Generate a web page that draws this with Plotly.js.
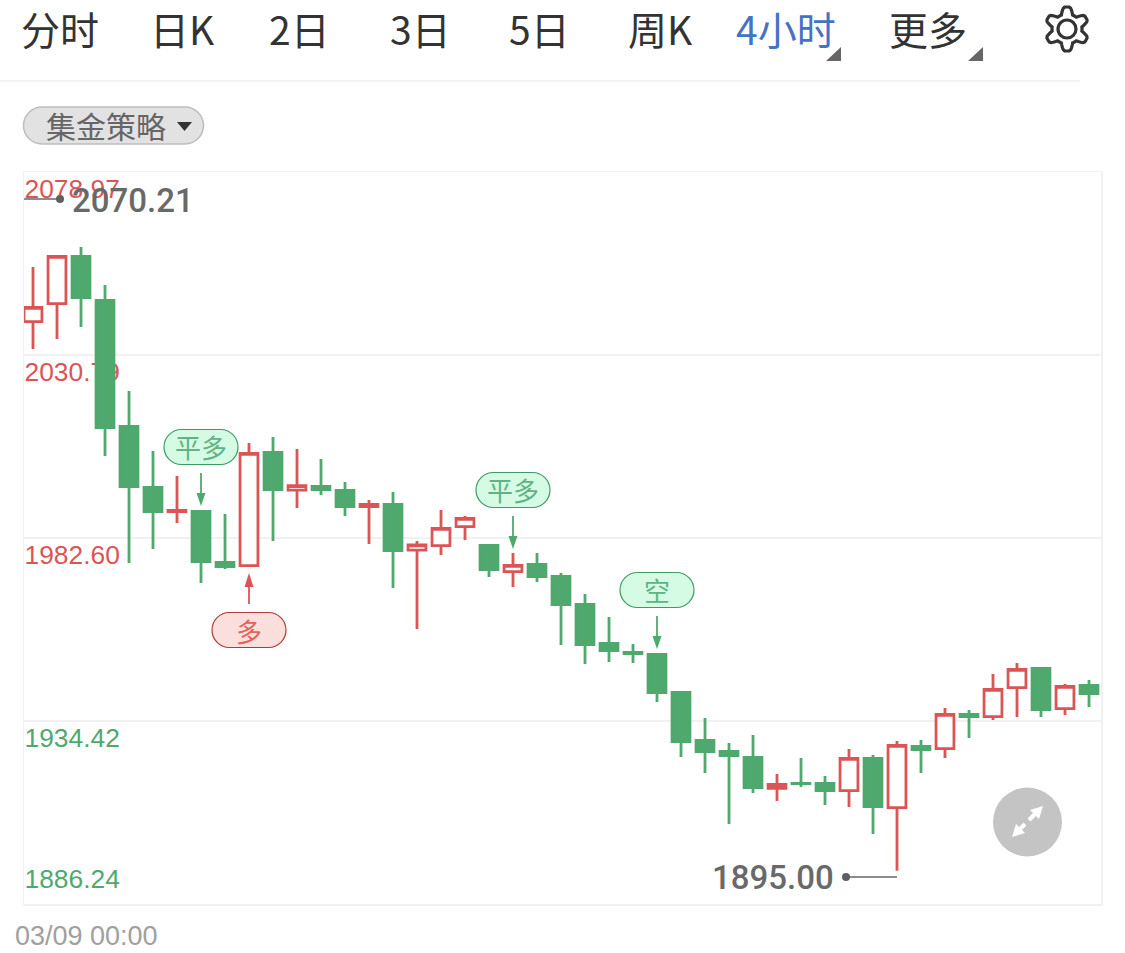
<!DOCTYPE html>
<html>
<head>
<meta charset="utf-8">
<script src="https://cdn.plot.ly/plotly-3.0.1.min.js"></script>
<style>html,body{margin:0;padding:0;background:#fff;overflow:hidden}#chart{width:1125px;height:953px}</style>
</head>
<body>
<div id="chart"></div>
<script>
const indexes = Array.from({length:45},(_,i)=>i);
const opens = [2039.58,2044.32,2056.74,2045.16,2011.99,1995.93,1989.56,1989.61,1976.18,1975.34,2005.14,1995.20,1996.19,1995.14,1990.87,1991.45,1979.40,1980.61,1985.61,1980.66,1973.76,1975.65,1972.49,1965.12,1954.85,1952.48,1951.96,1941.95,1929.32,1926.42,1924.84,1916.70,1918.00,1918.00,1916.10,1924.58,1911.62,1927.74,1927.16,1936.16,1935.58,1943.22,1948.27,1937.69,1943.80];
const highs = [2053.95,2057.11,2059.22,2049.22,2021.31,2005.51,1998.93,1989.98,1988.92,2007.62,2009.20,2006.04,2003.40,1997.35,1992.61,1994.72,1981.82,1989.98,1988.40,1981.03,1978.66,1978.66,1973.39,1967.86,1961.81,1954.70,1952.33,1942.32,1935.21,1928.63,1930.74,1920.47,1924.68,1919.94,1927.05,1925.47,1929.16,1929.42,1937.85,1937.32,1946.80,1949.69,1948.64,1944.17,1945.22];
const lows = [2032.37,2035.00,2038.16,2004.19,1976.02,1979.71,1986.55,1970.76,1974.44,1974.97,1981.82,1990.50,1993.93,1988.40,1981.03,1969.44,1958.65,1978.13,1982.08,1972.34,1969.70,1971.02,1954.43,1949.43,1949.96,1949.69,1939.43,1924.95,1920.73,1907.31,1915.47,1913.36,1917.05,1912.31,1911.78,1904.67,1895.00,1920.73,1924.68,1929.95,1934.69,1935.48,1935.48,1936.00,1938.11];
const closes = [2043.32,2056.74,2045.90,2011.67,1996.14,1989.56,1989.87,1976.39,1975.08,2004.88,1995.35,1996.40,1995.35,1990.87,1991.45,1979.29,1980.80,1985.13,1987.76,1974.29,1975.39,1972.44,1965.07,1954.54,1952.96,1952.17,1941.90,1929.00,1926.37,1925.32,1916.89,1917.70,1917.95,1916.10,1924.58,1911.89,1928.00,1926.90,1936.16,1935.58,1942.74,1948.01,1937.43,1943.53,1941.64];
const tickVals = [2078.97,2030.79,1982.60,1934.42,1886.24];
const tickAnchors = ['top','top','top','top','bottom'];
const tabs = ['分时','日K','2日','3日','5日','周K','4小时','更多'];
const tabCenters = [60,182,299,420,539,660,786,928];
const signalLabels = ['平多','多','平多','空'];
const signalIndex = [7,9,20,26];
const signalDir = [1,-1,1,1];
const maxLabel = '2070.21', minLabel = '1895.00', dateLabel = '03/09 00:00', strategyLabel = '集金策略';

const RED='#dc5556', GREEN='#4fa96e', SANS='"Liberation Sans", Arial, sans-serif', CJK='"Noto Sans CJK SC", sans-serif';
const X=p=>(p-24)/1077, Y=p=>(904-p)/732;
const k=0.5523;
function rrect(x0,y0,x1,y1,r,fx,fy){
  const c=r*(1-k);
  return `M${fx(x0+r)},${fy(y0)} L${fx(x1-r)},${fy(y0)} C${fx(x1-c)},${fy(y0)} ${fx(x1)},${fy(y0+c)} ${fx(x1)},${fy(y0+r)} `+
         `L${fx(x1)},${fy(y1-r)} C${fx(x1)},${fy(y1-c)} ${fx(x1-c)},${fy(y1)} ${fx(x1-r)},${fy(y1)} `+
         `L${fx(x0+r)},${fy(y1)} C${fx(x0+c)},${fy(y1)} ${fx(x0)},${fy(y1-c)} ${fx(x0)},${fy(y1-r)} `+
         `L${fx(x0)},${fy(y0+r)} C${fx(x0)},${fy(y0+c)} ${fx(x0+c)},${fy(y0)} ${fx(x0+r)},${fy(y0)} Z`;
}
const paperShape=(path,fill,line,width)=>({type:'path',xref:'paper',yref:'paper',path,fillcolor:fill,line:{color:line||'rgba(0,0,0,0)',width:width||0},layer:'above'});
const paperPoly=(pts,fill)=>paperShape('M'+pts.map(p=>X(p[0])+','+Y(p[1])).join(' L')+' Z',fill);
const paperLine=(x0,y0,x1,y1,color,w)=>({type:'line',xref:'paper',yref:'paper',x0:X(x0),y0:Y(y0),x1:X(x1),y1:Y(y1),line:{color,width:w},layer:'above'});
const paperCircle=(cx,cy,r,fill)=>({type:'circle',xref:'paper',yref:'paper',x0:X(cx-r),x1:X(cx+r),y0:Y(cy+r),y1:Y(cy-r),fillcolor:fill,line:{width:0,color:'rgba(0,0,0,0)'},layer:'above'});
const note=(text,x,y,size,color,family,extra)=>Object.assign({text,xref:'paper',yref:'paper',x:X(x),y:Y(y),xanchor:'center',yanchor:'middle',showarrow:false,font:{size,color,family}},extra||{});

const shapes=[], annotations=[];

// header
tabs.forEach((t,i)=>annotations.push(note(t,tabCenters[i],27.5,39,t==='4小时'?'#4472c4':'#333333',CJK)));
shapes.push(paperLine(0,81,1080,81,'#f3f3f3',2));
shapes.push(paperPoly([[841,47],[841,61],[826,61]],'#666666'));
shapes.push(paperPoly([[983,47],[983,61],[968,61]],'#666666'));
// gear
(function(){
  const cx=1067,cy=29,pts=[];
  for(let d=0;d<360;d+=4){
    const th=d*Math.PI/180, r=18.5+3.5*Math.max(-1,Math.min(1,1.5*Math.cos(6*(th-Math.PI/2))));
    pts.push([cx+r*Math.cos(th),cy-r*Math.sin(th)]);
  }
  shapes.push(paperShape('M'+pts.map(p=>X(p[0])+','+Y(p[1])).join(' L')+' Z','rgba(0,0,0,0)','#333333',3.2));
  shapes.push({type:'circle',xref:'paper',yref:'paper',x0:X(cx-9),x1:X(cx+9),y0:Y(cy+9),y1:Y(cy-9),line:{color:'#333333',width:3.2},fillcolor:'rgba(0,0,0,0)',layer:'above'});
})();
// strategy pill
shapes.push(paperShape(rrect(23.5,107,203.5,144,18.5,X,Y),'#e2e2e2','#bdbdbd',1.5));
annotations.push(note(strategyLabel,105.5,125,30,'#666666',CJK));
shapes.push(paperPoly([[177,122],[192,122],[184.5,131]],'#333333'));

// axis value labels drawn beneath the candles
tickVals.forEach((v,i)=>{
  const pad=i===4?12:0;
  shapes.push({type:'line',xref:'paper',yref:'y',x0:0.5/1077,x1:1,y0:v,y1:v,layer:'below',line:{color:'rgba(0,0,0,0)',width:0},
    label:{text:v.toFixed(2),textposition:'start',xanchor:'left',yanchor:tickAnchors[i],padding:pad,font:{size:26.4,family:SANS,color:v>2000||v===1982.60?RED:GREEN}}});
});

// signals: pill + arrow anchored to the candle
signalIndex.forEach((idx,i)=>{
  const up=signalDir[i]>0, price=up?highs[idx]:lows[idx], col=signalLabels[i]==='多'?'#b03a38':'#3f9a63',
    fill=signalLabels[i]==='多'?'#fbdfdd':'#d5fbe4', ac=signalLabels[i]==='多'?RED:GREEN, tc=signalLabels[i]==='多'?'#e2625d':'#5fb385',
    s=up?1:-1, id=v=>v;
  const anchored={xref:'x',yref:'y',xsizemode:'pixel',ysizemode:'pixel',xanchor:idx,yanchor:price,type:'path',layer:'above'};
  const yA=s*45.5, yB=s*80.5;
  shapes.push(Object.assign({},anchored,{path:rrect(-37,Math.min(yA,yB),37,Math.max(yA,yB),17.5,id,id),fillcolor:fill,line:{color:col,width:1.2}}));
  shapes.push(Object.assign({},anchored,{path:`M0,${s*(up?12:16)} L0,${s*37}`,line:{color:ac,width:1.8},fillcolor:'rgba(0,0,0,0)'}));
  shapes.push(Object.assign({},anchored,{path:`M0,${s*(up?4:6)} L-4.5,${s*(up?17:20)} L4.5,${s*(up?17:20)} Z`,fillcolor:ac,line:{color:ac,width:0}}));
  annotations.push({text:signalLabels[i],xref:'x',yref:'y',x:idx,y:price,yshift:s*63,xanchor:'center',yanchor:'middle',showarrow:false,font:{size:26,color:tc,family:CJK}});
});

// extreme labels
const EXT={size:33,color:'#696969',family:'Roboto, sans-serif',weight:500};
shapes.push(paperLine(24,199,60,199,'#666666',1.5));
shapes.push(paperCircle(60,199,4,'#5f5f5f'));
annotations.push(note(maxLabel,132.5,200,33,'#666666',SANS,{font:EXT}));
shapes.push(paperLine(846,877,897,877,'#666666',1.5));
shapes.push(paperCircle(846,877,4,'#5f5f5f'));
annotations.push(note(minLabel,773,877,33,'#666666',SANS,{font:EXT}));
annotations.push(note(dateLabel,86,936,27,'#a0a0a0',SANS));

// expand button
shapes.push(paperCircle(1027.5,822,34.5,'#c4c4c4'));
shapes.push(paperPoly([[1043,806],[1039,819],[1030,810]],'#ffffff'));
shapes.push(paperPoly([[1012,837],[1016,824],[1025,833]],'#ffffff'));
shapes.push(paperLine(1036,813,1029,820,'#ffffff',4));
shapes.push(paperLine(1019,830,1025,824,'#ffffff',4));

const trace={type:'candlestick',x:indexes,open:opens,high:highs,low:lows,close:closes,
  increasing:{line:{color:RED,width:2.8},fillcolor:'#ffffff'},
  decreasing:{line:{color:GREEN,width:2.8},fillcolor:GREEN},
  hoverinfo:'skip',showlegend:false};

const layout={width:1125,height:953,margin:{l:24,r:24,t:172,b:49,pad:0},paper_bgcolor:'#ffffff',plot_bgcolor:'rgba(0,0,0,0)',
  showlegend:false,boxgap:0.255,boxgroupgap:0,hovermode:false,dragmode:false,
  xaxis:{type:'linear',range:[-0.375,44.5],rangeslider:{visible:false},showgrid:false,zeroline:false,showticklabels:false,ticks:'',showline:true,mirror:true,linecolor:'#f1f1f1',linewidth:1.5},
  yaxis:{range:[1886.24,2078.97],tickvals:tickVals,showgrid:true,gridcolor:'#f1f1f1',gridwidth:1.5,zeroline:false,showticklabels:false,ticks:'',showline:true,mirror:true,linecolor:'#f1f1f1',linewidth:1.5},
  shapes,annotations};
Plotly.newPlot('chart',[trace],layout,{displayModeBar:false,staticPlot:true});
</script>
</body>
</html>
